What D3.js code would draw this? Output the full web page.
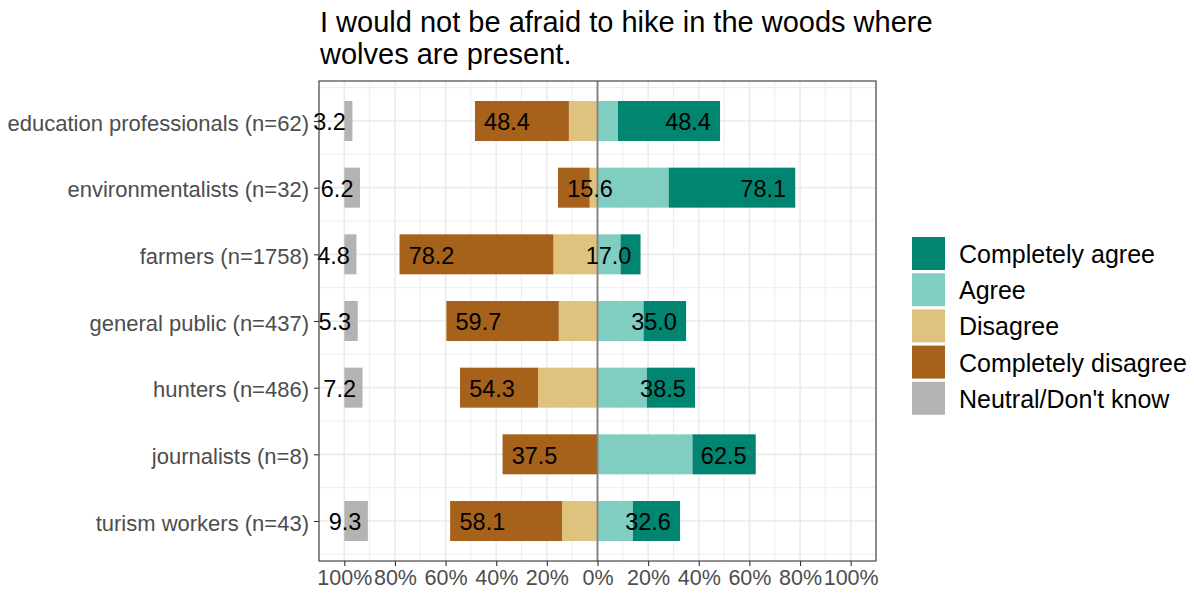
<!DOCTYPE html>
<html>
<head>
<meta charset="utf-8">
<script src="https://cdn.jsdelivr.net/npm/d3@7"></script>
<style>
  html, body { margin: 0; padding: 0; background: #fff; }
  svg { display: block; font-family: "Liberation Sans", Arial, sans-serif; }
</style>
</head>
<body>
<svg id="chart" width="1194" height="593"></svg>
<script>
// ---- data ----
const groups = [
  "education professionals (n=62)",
  "environmentalists (n=32)",
  "farmers (n=1758)",
  "general public (n=437)",
  "hunters (n=486)",
  "journalists (n=8)",
  "turism workers (n=43)"
];
const completelyDisagree = [37.1, 12.5, 60.8, 44.4, 30.8, 37.5, 44.2];
const disagree           = [11.3,  3.1, 17.4, 15.3, 23.5,  0.0, 14.0];
const agree              = [ 8.1, 28.1,  9.1, 18.2, 19.5, 37.5, 14.0];
const completelyAgree    = [40.3, 50.0,  7.9, 16.8, 19.0, 25.0, 18.6];
const neutral            = [ 3.2,  6.2,  4.8,  5.3,  7.2,  0.0,  9.3];
const lowLabels  = ["48.4", "15.6", "78.2", "59.7", "54.3", "37.5", "58.1"];
const highLabels = ["48.4", "78.1", "17.0", "35.0", "38.5", "62.5", "32.6"];
const neutralLabels = ["3.2", "6.2", "4.8", "5.3", "7.2", "", "9.3"];
const tickValues = [-100, -80, -60, -40, -20, 0, 20, 40, 60, 80, 100];
const tickLabels = ["100%", "80%", "60%", "40%", "20%", "0%", "20%", "40%", "60%", "80%", "100%"];
const legendLabels = ["Completely agree", "Agree", "Disagree", "Completely disagree", "Neutral/Don't know"];
const legendColors = ["#018571", "#80CDC1", "#DFC27D", "#A6611A", "#B3B3B3"];
const titleLines = ["I would not be afraid to hike in the woods where", "wolves are present."];

// ---- layout ----
const svg = d3.select("#chart");
const panel = { left: 319, right: 876, top: 81, bottom: 561 };

const x = d3.scaleLinear().domain([-110, 110]).range([panel.left, panel.right]);
const y = d3.scalePoint().domain(groups).range([panel.top, panel.bottom]).padding(0.6);
const step = y.step();
const barH = step * 0.6;

// background grid
const g = svg.append("g");
g.append("rect").attr("x", panel.left).attr("y", panel.top)
  .attr("width", panel.right - panel.left).attr("height", panel.bottom - panel.top)
  .attr("fill", "#fff");

const minorX = d3.range(-110, 111, 10).filter(v => v % 20 !== 0);
g.selectAll(".minx").data(minorX).join("line")
  .attr("x1", d => x(d)).attr("x2", d => x(d))
  .attr("y1", panel.top).attr("y2", panel.bottom)
  .attr("stroke", "#EBEBEB").attr("stroke-width", 0.9);
const minorY = groups.map((d, i) => y(d) - step / 2).concat([y(groups[groups.length - 1]) + step / 2]);
g.selectAll(".miny").data(minorY).join("line")
  .attr("x1", panel.left).attr("x2", panel.right)
  .attr("y1", d => d).attr("y2", d => d)
  .attr("stroke", "#EBEBEB").attr("stroke-width", 0.9);
g.selectAll(".majx").data(tickValues).join("line")
  .attr("x1", d => x(d)).attr("x2", d => x(d))
  .attr("y1", panel.top).attr("y2", panel.bottom)
  .attr("stroke", "#EBEBEB").attr("stroke-width", 1.6);
g.selectAll(".majy").data(groups).join("line")
  .attr("x1", panel.left).attr("x2", panel.right)
  .attr("y1", d => y(d)).attr("y2", d => y(d))
  .attr("stroke", "#EBEBEB").attr("stroke-width", 1.6);

// segments
const segs = [];
groups.forEach((grp, i) => {
  segs.push({ grp, x0: -disagree[i], x1: 0, color: legendColors[2] });
  segs.push({ grp, x0: -(disagree[i] + completelyDisagree[i]), x1: -disagree[i], color: legendColors[3] });
  segs.push({ grp, x0: 0, x1: agree[i], color: legendColors[1] });
  segs.push({ grp, x0: agree[i], x1: agree[i] + completelyAgree[i], color: legendColors[0] });
  if (neutral[i] > 0) segs.push({ grp, x0: -100, x1: -100 + neutral[i], color: legendColors[4] });
});
svg.append("g").selectAll("rect").data(segs.filter(s => s.x1 - s.x0 > 0)).join("rect")
  .attr("x", d => x(d.x0)).attr("width", d => x(d.x1) - x(d.x0))
  .attr("y", d => y(d.grp) - barH / 2).attr("height", barH)
  .attr("fill", d => d.color);

// zero line
svg.append("line").attr("x1", x(0)).attr("x2", x(0))
  .attr("y1", panel.top).attr("y2", panel.bottom)
  .attr("stroke", "#7F7F7F").attr("stroke-width", 1.8);

// bar labels
const lab = svg.append("g").attr("font-size", 23.5).attr("fill", "#000");
groups.forEach((grp, i) => {
  const yy = y(grp) + 1;
  const low = +lowLabels[i];
  const t1 = lab.append("text").text(lowLabels[i]).attr("dy", "0.36em").attr("y", yy).attr("text-anchor", "start");
  const w1 = t1.node().getComputedTextLength();
  t1.attr("x", x(-low) + 0.2 * w1);
  const high = +highLabels[i];
  const t2 = lab.append("text").text(highLabels[i]).attr("dy", "0.36em").attr("y", yy).attr("text-anchor", "end");
  const w2 = t2.node().getComputedTextLength();
  t2.attr("x", x(high) - 0.2 * w2);
  if (neutralLabels[i]) {
    const t3 = lab.append("text").text(neutralLabels[i]).attr("dy", "0.36em").attr("y", yy).attr("text-anchor", "end");
    const w3 = t3.node().getComputedTextLength();
    t3.attr("x", x(-100 + neutral[i]) - 0.2 * w3);
  }
});

// panel border
svg.append("rect").attr("x", panel.left).attr("y", panel.top)
  .attr("width", panel.right - panel.left).attr("height", panel.bottom - panel.top)
  .attr("fill", "none").attr("stroke", "#333333").attr("stroke-width", 1.1);

// axes
const xAxis = d3.axisBottom(x).tickValues(tickValues)
  .tickFormat((d, i) => tickLabels[i]).tickSize(5).tickPadding(4);
const xg = svg.append("g").attr("transform", `translate(0,${panel.bottom})`).call(xAxis);
xg.select(".domain").remove();
xg.selectAll(".tick line").attr("stroke", "#333333").attr("stroke-width", 1.1);
xg.selectAll(".tick text").attr("fill", "#4D4D4D").attr("font-size", 21.5)
  .attr("font-family", "Liberation Sans, Arial, sans-serif");

const yAxis = d3.axisLeft(y).tickSize(5).tickPadding(5);
const yg = svg.append("g").attr("transform", `translate(${panel.left},0)`).call(yAxis);
yg.select(".domain").remove();
yg.selectAll(".tick line").attr("stroke", "#333333").attr("stroke-width", 1.1);
yg.selectAll(".tick text").attr("fill", "#4D4D4D").attr("font-size", 22)
  .attr("dy", "0.42em")
  .attr("font-family", "Liberation Sans, Arial, sans-serif");

// title
const title = svg.append("text").attr("x", 320).attr("y", 32)
  .attr("font-size", 29).attr("fill", "#000");
title.selectAll("tspan").data(titleLines).join("tspan")
  .attr("x", 320).attr("dy", (d, i) => i === 0 ? 0 : 31.5).text(d => d);

// legend
const leg = svg.append("g");
const legTop = 237;
const legPitch = 36.2;
legendLabels.forEach((lbl, i) => {
  const ly = legTop + i * legPitch;
  leg.append("rect").attr("x", 912).attr("y", ly).attr("width", 33).attr("height", 33)
    .attr("fill", legendColors[i]);
  leg.append("text").attr("x", 959).attr("y", ly + 16.5).attr("dy", "0.38em")
    .attr("font-size", 25).attr("fill", "#000").text(lbl);
});
</script>
</body>
</html>
